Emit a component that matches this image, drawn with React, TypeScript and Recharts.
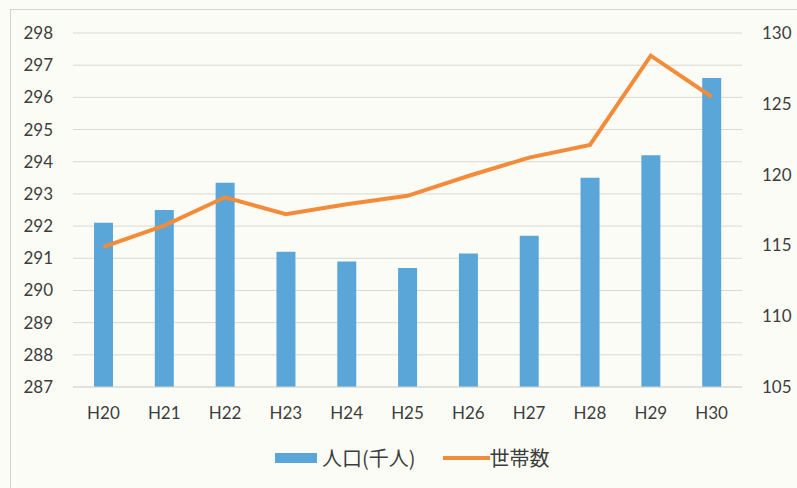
import {
  Bar,
  CartesianGrid,
  ComposedChart,
  Legend,
  Line,
  XAxis,
  YAxis,
} from "recharts";

const years = ["H20", "H21", "H22", "H23", "H24", "H25", "H26", "H27", "H28", "H29", "H30"];
// 人口（千人）
const population = [292.1, 292.5, 293.35, 291.2, 290.9, 290.7, 291.15, 291.7, 293.5, 294.2, 296.6];
// 世帯数（千世帯）
const households = [114.9, 116.4, 118.4, 117.2, 117.9, 118.5, 119.9, 121.2, 122.1, 128.4, 125.5];

const leftTicks = [287, 288, 289, 290, 291, 292, 293, 294, 295, 296, 297, 298];
const rightTicks = [105, 110, 115, 120, 125, 130];

const data = years.map((year, i) => ({
  year,
  population: population[i],
  households: households[i],
}));

const BLUE = "#5ba6d9";
const ORANGE = "#f28b3a";
const TEXT = "#3d3d3d";
const FONT = "Lato, 'Noto Sans CJK JP', sans-serif";

function renderLegend() {
  return (
    <div
      style={{
        display: "flex",
        alignItems: "center",
        height: 24,
        marginLeft: 275,
        fontFamily: "'Noto Sans CJK JP', sans-serif",
        fontSize: 20,
        color: TEXT,
      }}
    >
      <span style={{ width: 42, height: 10, background: BLUE, display: "inline-block" }} />
      <span style={{ marginLeft: 5, lineHeight: "24px" }}>人口(千人)</span>
      <span
        style={{
          width: 47,
          height: 4,
          background: ORANGE,
          display: "inline-block",
          marginLeft: 27,
        }}
      />
      <span style={{ lineHeight: "24px" }}>世帯数</span>
    </div>
  );
}

export default function App() {
  const tick = { fontSize: 17, fill: TEXT, fontFamily: FONT };

  return (
    <div
      style={{
        position: "absolute",
        left: 0,
        top: 0,
        width: 797,
        height: 488,
        background: "#fcfcf6",
        overflow: "hidden",
      }}
    >
      <div
        style={{
          position: "absolute",
          left: 10,
          top: 9,
          width: 800,
          height: 500,
          borderLeft: "1px solid #d2d2cc",
          borderTop: "1px solid #d2d2cc",
        }}
      />
      <div style={{ position: "absolute", left: 0, top: 0 }}>
        <ComposedChart
          width={797}
          height={488}
          data={data}
          margin={{ top: 33, right: 0, bottom: 37, left: 10 }}
        >
          <CartesianGrid
            yAxisId="left"
            vertical={false}
            stroke="#d9d9d3"
            strokeWidth={1}
          />
          <XAxis
            dataKey="year"
            height={40}
            axisLine={{ stroke: "#d9d9d3" }}
            tickLine={false}
            tickSize={0}
            tickMargin={20}
            tick={tick}
            interval={0}
          />
          <YAxis
            yAxisId="left"
            orientation="left"
            width={63}
            domain={[287, 298]}
            ticks={leftTicks}
            allowDataOverflow
            axisLine={false}
            tickLine={false}
            tickSize={0}
            tickMargin={20}
            tick={tick}
          />
          <YAxis
            yAxisId="right"
            orientation="right"
            width={55}
            domain={[105, 130]}
            ticks={rightTicks}
            axisLine={false}
            tickLine={false}
            tickSize={0}
            tickMargin={20}
            tick={{ ...tick, textAnchor: "start" }}
          />
          <Legend
            content={renderLegend}
            wrapperStyle={{ top: 446, left: 0, width: 797 }}
          />
          <Bar
            yAxisId="left"
            dataKey="population"
            name="人口(千人)"
            fill={BLUE}
            barSize={19}
            isAnimationActive={false}
          />
          <Line
            yAxisId="right"
            dataKey="households"
            name="世帯数"
            type="linear"
            stroke={ORANGE}
            strokeWidth={4}
            dot={false}
            activeDot={false}
            isAnimationActive={false}
          />
        </ComposedChart>
      </div>
    </div>
  );
}
